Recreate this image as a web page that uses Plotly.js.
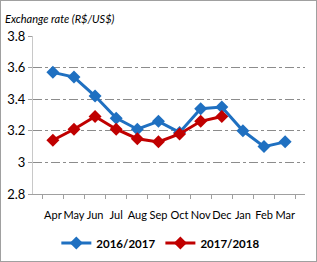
<!DOCTYPE html>
<html><head><meta charset="utf-8">
<script src="https://cdn.plot.ly/plotly-3.0.1.min.js"></script>
<style>html,body{margin:0;padding:0;background:#fff}#chart{width:315px;height:260px;border:1px solid #a0a0a0}</style>
</head><body><div id="chart"></div>
<script>
const months = ["Apr","May","Jun","Jul","Aug","Sep","Oct","Nov","Dec","Jan","Feb","Mar"];
const rate2016_2017 = [3.57,3.54,3.42,3.28,3.21,3.26,3.19,3.34,3.35,3.20,3.10,3.13];
const rate2017_2018 = [3.14,3.21,3.29,3.21,3.15,3.13,3.18,3.26,3.29];
const yTicks = [2.8,3,3.2,3.4,3.6,3.8];
const yTickText = ["2.8","3","3.2","3.4","3.6","3.8"];
const seriesNames = ["2016/2017","2017/2018"];

const font = "Lato, sans-serif";
const traces = [
  {x: months, y: rate2016_2017, name: seriesNames[0], type:'scatter', mode:'lines+markers',
   line:{color:'#1f70c1', width:3}, marker:{symbol:'diamond', size:10, color:'#1f70c1'}},
  {x: months.slice(0, rate2017_2018.length), y: rate2017_2018, name: seriesNames[1], type:'scatter', mode:'lines+markers',
   line:{color:'#c00000', width:3}, marker:{symbol:'diamond', size:10, color:'#c00000'}}
];
const layout = {
  width:315, height:260,
  margin:{l:32, r:11, t:35, b:67},
  paper_bgcolor:'#fff', plot_bgcolor:'#fff',
  font:{family:font, size:12, color:'#000'},
  showlegend:true,
  legend:{orientation:'h', x:0.47, xanchor:'center', yref:'container', y:0.125, yanchor:'top',
          font:{family:font, size:11.5, color:'#000', weight:'bold'}, itemwidth:30,
          tracegroupgap:0},
  xaxis:{type:'category', categoryorder:'array', categoryarray:months,
         showline:true, linecolor:'#a0a0a0', linewidth:1, automargin:false,
         ticks:'outside', tickson:'boundaries', ticklen:4, tickcolor:'#a0a0a0',
         ticklabelstandoff:11,
         tickangle:0, showgrid:false, tickfont:{family:font, size:11}, fixedrange:true},
  yaxis:{range:[2.8,3.8], tickvals:yTicks, ticktext:yTickText, automargin:false,
         showline:true, linecolor:'#c8c8c8', linewidth:1,
         ticks:'outside', ticklen:4, tickcolor:'#a0a0a0',
         showgrid:true, gridcolor:'#8c8c8c', griddash:'dashdot', gridwidth:1,
         zeroline:false, tickfont:{family:font, size:13}, fixedrange:true},
  annotations:[{text:'<i>Exchange rate (R$/US$)</i>', xref:'paper', yref:'paper',
     x:-0.11, xanchor:'left', y:1.0, yshift:9, yanchor:'bottom', showarrow:false,
     font:{family:font, size:11, color:'#000'}}]
};
Plotly.newPlot('chart', traces, layout, {displayModeBar:false, staticPlot:true});
</script></body></html>
